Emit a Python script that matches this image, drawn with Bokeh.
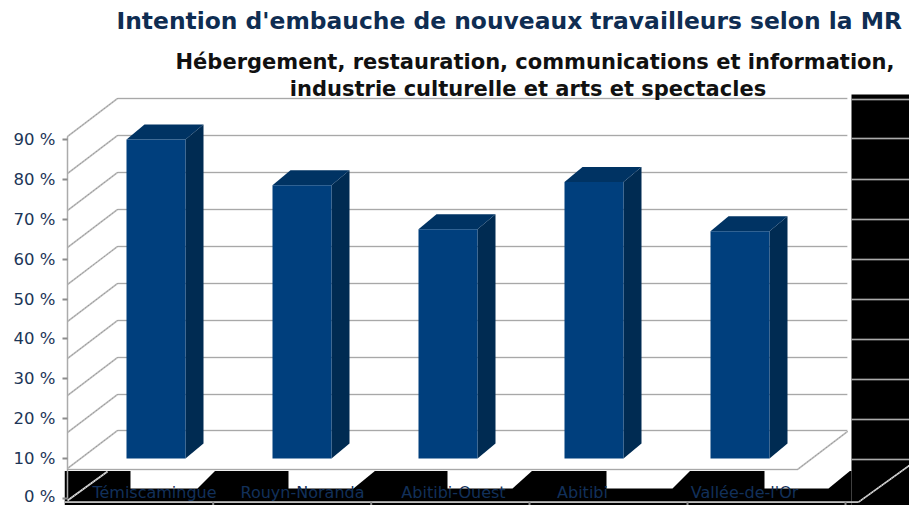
from bokeh.plotting import figure
from bokeh.embed import file_html
from bokeh.resources import INLINE
from bokeh.models import Range1d, FixedTicker
from bokeh.core.properties import value

# ---- data ----
categories = ["Témiscamingue", "Rouyn-Noranda", "Abitibi-Ouest", "Abitibi", "Vallée-de-l'Or"]
values = [90, 78.5, 67.5, 79.3, 67]
bar_base = 10
y_ticks = [0, 10, 20, 30, 40, 50, 60, 70, 80, 90]
title_text = "Intention d'embauche de nouveaux travailleurs selon la MR"
subtitle_lines = ["Hébergement, restauration, communications et information,",
                  "industrie culturelle et arts et spectacles"]

# ---- layout (screen pixels) ----
W, H = 909, 505
PX = 3.99               # pixels per value unit
Y0 = 498                # screen y of value 0
FRAME_LEFT = 64
def v(sy):              # screen y -> value
    return (Y0 - sy) / PX

NAVY, SIDE, TOP = "#003F7D", "#002B52", "#003363"
TXT = "#1C3557"
GRID, GRID_D = "#C4C4C4", "#8C8C8C"

p = figure(width=W, height=H, output_backend="svg", toolbar_location=None,
           x_range=Range1d(FRAME_LEFT, W), y_range=Range1d(v(H), v(0)),
           min_border_left=FRAME_LEFT, min_border_right=0, min_border_top=0, min_border_bottom=0,
           outline_line_color=None, background_fill_color="white")
p.xaxis.visible = False
p.grid.visible = False
ax = p.yaxis[0]
ax.ticker = FixedTicker(ticks=y_ticks)
ax.major_label_overrides = {t: f"{t} %" for t in y_ticks}
ax.major_label_text_font = "DejaVu Sans"
ax.major_label_text_font_size = "16.5px"
ax.major_label_text_color = TXT
ax.major_label_standoff = 7
ax.axis_line_color = None
ax.minor_tick_line_color = None
ax.major_tick_line_color = "#8C8C8C"
ax.major_tick_line_width = 2
ax.major_tick_in = 3
ax.major_tick_out = 2

def seg(xs, sys, solid=GRID, dash=GRID_D, w=1.6):
    ys = [v(s) for s in sys]
    p.line(xs, ys, line_color=solid, line_width=w)
    if dash:
        p.line(xs, ys, line_color=dash, line_width=1, line_dash="1 1")

# black artefact areas
p.quad(left=64, right=851, top=v(470.5), bottom=v(506), fill_color="black", line_color=None)
p.quad(left=851, right=910, top=v(94), bottom=v(506), fill_color="black", line_color=None)
for l, r, t in [(130, 197, 215), (288, 353, 375), (447, 512, 532), (606, 672, 690), (764, 828, 850)]:
    p.patch([l, l, r, t, t], [v(469), v(488), v(488), v(470), v(469)], fill_color="white", line_color=None)

# back wall grid and left wall
back = [98, 135, 172, 209, 246, 283, 320, 357, 394, 430]
for s in back:
    seg([117, 847], [s, s])
    seg([67, 117], [s + 38, s])
# axis line, floor
seg([67, 67], [136, 498], solid="#ABABAB", dash=None, w=1.5)
seg([67, 797, 847], [469, 469, 431])

# right column lines
for s in [99, 138, 179, 219, 259, 299, 339, 379, 419, 459]:
    seg([851, 909], [s, s], solid="#E0E0E0", dash="#777777")
# bottom axis
seg([64, 858], [501.6, 501.6], solid="#E0E0E0", dash="#777777")
seg([858, 909], [501.6, 465], solid="#F0F0F0", dash="#777777")
seg([67, 107], [500, 471], solid="#F0F0F0", dash="#777777")
for x in [212.7, 370.7, 529, 687, 845]:
    seg([x, x], [501, 505], solid="#8C8C8C", dash=None, w=2)

# bars
DX, DY = 18, 15 / PX
BAR_L, BAR_W, BAR_STEP = 126, 59, 146
for i, val in enumerate(values):
    l = BAR_L + i * BAR_STEP
    r = l + BAR_W
    p.patch([r, r + DX, r + DX, r], [bar_base, bar_base + DY, val + DY, val], fill_color=SIDE, line_color=None)
    p.patch([l, l + DX, r + DX, r], [val, val + DY, val + DY, val], fill_color=TOP, line_color=None)
    p.quad(left=l, right=r, bottom=bar_base, top=val, fill_color=NAVY, line_color=None)

# category labels
label_x = [154, 302, 453, 582, 744]
p.text(label_x, [v(492)] * 5, text=categories, text_align="center", text_baseline="middle",
       text_font=value("DejaVu Sans"), text_font_size="16px", text_color="#12305A")

# titles
p.text([116], [v(20)], text=[title_text], text_align="left", text_baseline="middle",
       text_font=value("DejaVu Sans"), text_font_style="bold", text_font_size="23.4px", text_color="#0F2D52")
p.text([534.5, 527.5], [v(61), v(88)], text=subtitle_lines, text_align="center", text_baseline="middle",
       text_font=value("DejaVu Sans"), text_font_style="bold", text_font_size="21px", text_color="#111111")

open("out.html", "w").write(file_html(p, INLINE))
